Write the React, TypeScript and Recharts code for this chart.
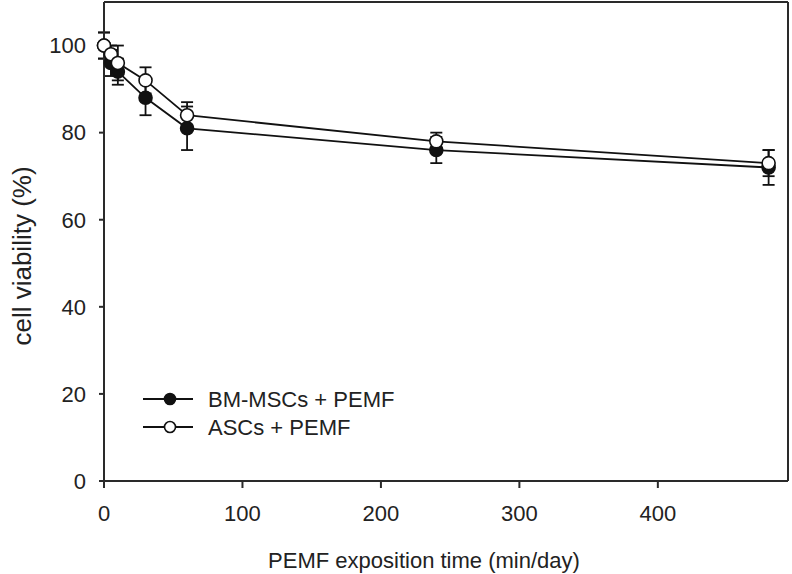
import React from 'react'
import { LineChart, Line, XAxis, YAxis, ErrorBar, ReferenceLine } from 'recharts'

const font = '"Liberation Sans", Arial, sans-serif'

// exposure time (min/day)
const times = [0, 5, 10, 30, 60, 240, 480]
// BM-MSCs + PEMF (filled circles)
const bmValues = [100, 96, 94, 88, 81, 76, 72]
const bmErrors = [3, 3, 3, 4, 5, 3, 4]
// ASCs + PEMF (open circles)
const ascValues = [100, 98, 96, 92, 84, 78, 73]
const ascErrors = [3, 2, 4, 3, 3, 2, 3]

const xTicks = [0, 100, 200, 300, 400]
const yTicks = [0, 20, 40, 60, 80, 100]

const data = times.map((t, i) => ({
    t,
    bm: bmValues[i],
    bmErr: bmErrors[i],
    asc: ascValues[i],
    ascErr: ascErrors[i],
}))

const axisColor = '#2a2a2a'
const textColor = '#222'
const ink = '#111'

function LegendBox() {
    const rows = [
        { label: 'BM-MSCs + PEMF', fill: ink },
        { label: 'ASCs + PEMF', fill: '#fff' },
    ]
    return (
        <svg width={300} height={60} style={{ position: 'absolute', left: 143, top: 385 }}>
            {rows.map((r, i) => {
                const y = 14 + i * 28
                return (
                    <g key={r.label}>
                        <line x1={0} x2={50} y1={y} y2={y} stroke={ink} strokeWidth={1.8} />
                        <circle cx={27} cy={y} r={5.5} fill={r.fill} stroke={ink} strokeWidth={1.6} />
                        <text
                            x={65}
                            y={y}
                            dominantBaseline="central"
                            fontSize={22}
                            fontFamily={font}
                            fill={textColor}
                        >
                            {r.label}
                        </text>
                    </g>
                )
            })}
        </svg>
    )
}

export default function App() {
    return (
        <div style={{ position: 'absolute', left: 0, top: 0, width: 792, height: 574, background: '#fff' }}>
            <LineChart
                width={792}
                height={574}
                data={data}
                margin={{ top: 2, right: 4, left: 0, bottom: 0 }}
            >
                <XAxis
                    type="number"
                    dataKey="t"
                    domain={[0, 494]}
                    ticks={xTicks}
                    height={93}
                    stroke={axisColor}
                    strokeWidth={2}
                    tickSize={7}
                    tickMargin={17}
                    tick={{ fontSize: 22, fill: textColor, fontFamily: font }}
                    label={{
                        content: () => (
                            <text
                                x={424}
                                y={560}
                                textAnchor="middle"
                                dominantBaseline="central"
                                fontSize={22}
                                fontFamily={font}
                                fill={textColor}
                            >
                                PEMF exposition time (min/day)
                            </text>
                        ),
                    }}
                />
                <YAxis
                    type="number"
                    domain={[0, 110]}
                    ticks={yTicks}
                    width={104}
                    stroke={axisColor}
                    strokeWidth={2}
                    tickSize={5}
                    tickMargin={13}
                    tick={{ fontSize: 22, fill: textColor, fontFamily: font }}
                    label={{
                        content: () => (
                            <text
                                x={22}
                                y={256}
                                transform="rotate(-90 22 256)"
                                textAnchor="middle"
                                dominantBaseline="central"
                                fontSize={26}
                                fontFamily={font}
                                fill={textColor}
                            >
                                cell viability (%)
                            </text>
                        ),
                    }}
                />
                <ReferenceLine x={494} stroke={axisColor} strokeWidth={2} />
                <ReferenceLine y={110} stroke={axisColor} strokeWidth={2} />
                <Line
                    type="linear"
                    dataKey="bm"
                    stroke={ink}
                    strokeWidth={1.8}
                    dot={{ r: 6.5, fill: ink, stroke: ink, strokeWidth: 1.6 }}
                    activeDot={false}
                    isAnimationActive={false}
                >
                    <ErrorBar dataKey="bmErr" width={6} stroke={ink} strokeWidth={1.8} direction="y" isAnimationActive={false} />
                </Line>
                <Line
                    type="linear"
                    dataKey="asc"
                    stroke={ink}
                    strokeWidth={1.8}
                    dot={{ r: 6.5, fill: '#fff', stroke: ink, strokeWidth: 1.6 }}
                    activeDot={false}
                    isAnimationActive={false}
                >
                    <ErrorBar dataKey="ascErr" width={6} stroke={ink} strokeWidth={1.8} direction="y" isAnimationActive={false} />
                </Line>
            </LineChart>
            <LegendBox />
        </div>
    )
}
